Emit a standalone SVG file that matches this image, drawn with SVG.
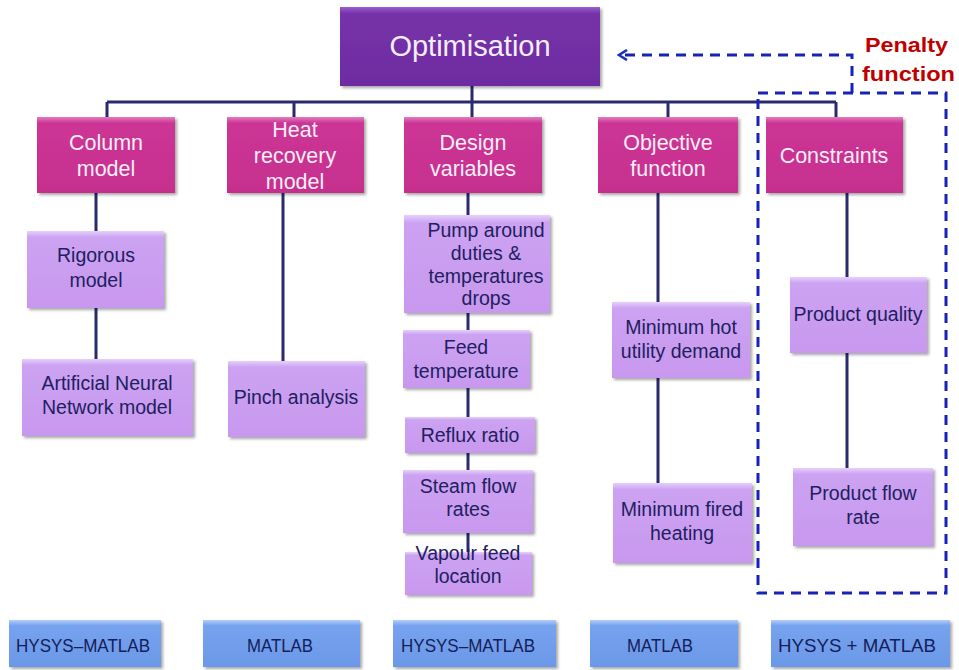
<svg xmlns="http://www.w3.org/2000/svg" width="959" height="670" viewBox="0 0 959 670">
  <defs>
    <filter id="shadow" x="-10%" y="-10%" width="125%" height="130%">
      <feDropShadow dx="2" dy="2" stdDeviation="1.5" flood-color="#000" flood-opacity="0.35"/>
    </filter>
    <linearGradient id="gTop" x1="0" y1="0" x2="0" y2="1">
      <stop offset="0" stop-color="#9a5fd0"/>
      <stop offset="0.08" stop-color="#7632a8"/>
      <stop offset="1" stop-color="#6e2ca2"/>
    </linearGradient>
    <linearGradient id="gMag" x1="0" y1="0" x2="0" y2="1">
      <stop offset="0" stop-color="#e27bbd"/>
      <stop offset="0.08" stop-color="#cc3595"/>
      <stop offset="1" stop-color="#c62f8e"/>
    </linearGradient>
    <linearGradient id="gLil" x1="0" y1="0" x2="0" y2="1">
      <stop offset="0" stop-color="#e6d0fb"/>
      <stop offset="0.08" stop-color="#cca2f2"/>
      <stop offset="1" stop-color="#c898ee"/>
    </linearGradient>
    <linearGradient id="gBlue" x1="0" y1="0" x2="0" y2="1">
      <stop offset="0" stop-color="#b4cdf7"/>
      <stop offset="0.12" stop-color="#76a2ee"/>
      <stop offset="1" stop-color="#6b98e8"/>
    </linearGradient>
    <marker id="arrow" viewBox="0 0 12 12" refX="10" refY="6" markerWidth="12" markerHeight="12" markerUnits="userSpaceOnUse" orient="auto">
      <path d="M2 1 L10 6 L2 11" fill="none" stroke="#1a2fc0" stroke-width="2.6"/>
    </marker>
  </defs>
  <style>
    .top { fill: url(#gTop); filter: url(#shadow); }
    .mag { fill: url(#gMag); filter: url(#shadow); }
    .lil { fill: url(#gLil); filter: url(#shadow); }
    .blu { fill: url(#gBlue); filter: url(#shadow); }
    .link { stroke: #2b2a6e; stroke-width: 3; fill: none; }
    .dash { stroke: #1622b8; stroke-width: 3; fill: none; stroke-dasharray: 10 7; }
    text { font-family: "Liberation Sans", Arial, sans-serif; text-anchor: middle; }
    .tTop { fill: #f4eefa; font-size: 29px; }
    .tMag { fill: #fbeef6; font-size: 21.5px; }
    .tLil { fill: #1e2060; font-size: 19.5px; }
    .tBlu { fill: #14205a; font-size: 18px; }
    .tPen { fill: #c00000; font-size: 21px; font-weight: bold; text-anchor: start; }
  </style>
  <rect width="959" height="670" fill="#ffffff"/>

  <!-- connectors -->
  <g id="connectors">
    <path class="link" d="M472 86 V102 M107 102 H836 M107 102 V118 M294 102 V118 M472 102 V118 M668 102 V118 M836 102 V118"/>
    <path class="link" d="M96 193 V231 M96 308 V359"/>
    <path class="link" d="M283 193 V361"/>
    <path class="link" d="M468 193 V215 M468 313 V330 M468 388 V417 M468 453 V470 M468 533 V552"/>
    <path class="link" d="M658 193 V302 M658 378 V483"/>
    <path class="link" d="M847 193 V277 M847 353 V468"/>
    <!-- penalty feedback -->
    <path class="dash" d="M852 93 V55 H619" marker-end="url(#arrow)"/>
    <rect class="dash" x="758" y="93" width="188" height="500"/>
  </g>

  <g id="optimisation">
    <rect class="top" x="340" y="7" width="260" height="79"/>
    <text class="tTop" x="470" y="56">Optimisation</text>
  </g>

  <g id="penalty">
    <text class="tPen" x="865" y="52" textLength="83" lengthAdjust="spacingAndGlyphs">Penalty</text>
    <text class="tPen" x="862" y="81" textLength="93" lengthAdjust="spacingAndGlyphs">function</text>
  </g>

  <!-- top-level categories -->
  <g id="column-model">
    <rect class="mag" x="37" y="117" width="138" height="76"/>
    <text class="tMag" x="106" y="150">Column</text>
    <text class="tMag" x="106" y="176">model</text>
  </g>
  <g id="heat-recovery-model">
    <rect class="mag" x="227" y="117" width="137" height="76"/>
    <text class="tMag" x="295" y="137">Heat</text>
    <text class="tMag" x="295" y="163">recovery</text>
    <text class="tMag" x="295" y="189">model</text>
  </g>
  <g id="design-variables">
    <rect class="mag" x="404" y="117" width="138" height="76"/>
    <text class="tMag" x="473" y="150">Design</text>
    <text class="tMag" x="473" y="176">variables</text>
  </g>
  <g id="objective-function">
    <rect class="mag" x="598" y="117" width="140" height="76"/>
    <text class="tMag" x="668" y="150">Objective</text>
    <text class="tMag" x="668" y="176">function</text>
  </g>
  <g id="constraints">
    <rect class="mag" x="766" y="117" width="137" height="76"/>
    <text class="tMag" x="834" y="163">Constraints</text>
  </g>

  <!-- column model children -->
  <g id="rigorous-model">
    <rect class="lil" x="27" y="231" width="137" height="77"/>
    <text class="tLil" x="96" y="262">Rigorous</text>
    <text class="tLil" x="96" y="287">model</text>
  </g>
  <g id="ann-model">
    <rect class="lil" x="22" y="359" width="171" height="77"/>
    <text class="tLil" x="107" y="390">Artificial Neural</text>
    <text class="tLil" x="107" y="414">Network model</text>
  </g>

  <!-- heat recovery children -->
  <g id="pinch-analysis">
    <rect class="lil" x="228" y="361" width="137" height="76"/>
    <text class="tLil" x="296" y="404">Pinch analysis</text>
  </g>

  <!-- design variable children -->
  <g id="pump-around">
    <rect class="lil" x="404" y="215" width="146" height="98"/>
    <text class="tLil" x="486" y="237">Pump around</text>
    <text class="tLil" x="486" y="260">duties &amp;</text>
    <text class="tLil" x="486" y="283">temperatures</text>
    <text class="tLil" x="486" y="305">drops</text>
  </g>
  <g id="feed-temperature">
    <rect class="lil" x="403" y="330" width="127" height="58"/>
    <text class="tLil" x="466" y="354">Feed</text>
    <text class="tLil" x="466" y="378">temperature</text>
  </g>
  <g id="reflux-ratio">
    <rect class="lil" x="405" y="417" width="130" height="36"/>
    <text class="tLil" x="470" y="442">Reflux ratio</text>
  </g>
  <g id="steam-flow-rates">
    <rect class="lil" x="403" y="470" width="130" height="63"/>
    <text class="tLil" x="468" y="493">Steam flow</text>
    <text class="tLil" x="468" y="516">rates</text>
  </g>
  <g id="vapour-feed-location">
    <rect class="lil" x="405" y="552" width="127" height="43"/>
    <text class="tLil" x="468" y="560">Vapour feed</text>
    <text class="tLil" x="468" y="583">location</text>
  </g>

  <!-- objective function children -->
  <g id="min-hot-utility">
    <rect class="lil" x="612" y="302" width="138" height="76"/>
    <text class="tLil" x="681" y="334">Minimum hot</text>
    <text class="tLil" x="681" y="358">utility demand</text>
  </g>
  <g id="min-fired-heating">
    <rect class="lil" x="613" y="483" width="139" height="80"/>
    <text class="tLil" x="682" y="516">Minimum fired</text>
    <text class="tLil" x="682" y="540">heating</text>
  </g>

  <!-- constraint children -->
  <g id="product-quality">
    <rect class="lil" x="790" y="277" width="137" height="76"/>
    <text class="tLil" x="858" y="321">Product quality</text>
  </g>
  <g id="product-flow-rate">
    <rect class="lil" x="793" y="468" width="140" height="78"/>
    <text class="tLil" x="863" y="500">Product flow</text>
    <text class="tLil" x="863" y="524">rate</text>
  </g>

  <!-- software tools -->
  <g id="tool-1">
    <rect class="blu" x="9" y="620" width="152" height="47"/>
    <text class="tBlu" x="83" y="652" textLength="134" lengthAdjust="spacingAndGlyphs">HYSYS–MATLAB</text>
  </g>
  <g id="tool-2">
    <rect class="blu" x="203" y="620" width="157" height="47"/>
    <text class="tBlu" x="280" y="652" textLength="66" lengthAdjust="spacingAndGlyphs">MATLAB</text>
  </g>
  <g id="tool-3">
    <rect class="blu" x="393" y="620" width="163" height="47"/>
    <text class="tBlu" x="468" y="652" textLength="134" lengthAdjust="spacingAndGlyphs">HYSYS–MATLAB</text>
  </g>
  <g id="tool-4">
    <rect class="blu" x="590" y="620" width="148" height="47"/>
    <text class="tBlu" x="660" y="652" textLength="66" lengthAdjust="spacingAndGlyphs">MATLAB</text>
  </g>
  <g id="tool-5">
    <rect class="blu" x="771" y="620" width="179" height="47"/>
    <text class="tBlu" x="857" y="652" textLength="158" lengthAdjust="spacingAndGlyphs">HYSYS  + MATLAB</text>
  </g>
</svg>
